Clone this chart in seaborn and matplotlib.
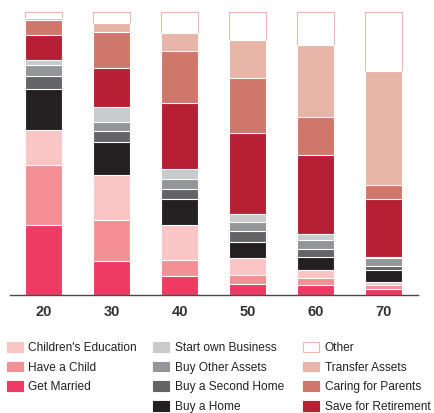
import numpy as np
import matplotlib
matplotlib.use("Agg")
import matplotlib.pyplot as plt
import seaborn as sns
from matplotlib.patches import Patch

# ------------------------------------------
# data (share of goals, % of each age group)
# ------------------------------------------
ages = ["20", "30", "40", "50", "60", "70"]

get_married = [24.6, 12.1, 6.7, 4.0, 3.5, 2.1]
have_child = [21.3, 14.4, 5.6, 3.2, 2.6, 1.6]
children_edu = [12.5, 15.8, 12.3, 5.8, 2.6, 0.9]
buy_home = [14.4, 11.8, 9.5, 5.8, 4.9, 4.4]
second_home = [4.8, 4.0, 3.5, 3.7, 2.8, 1.4]
other_assets = [3.9, 3.2, 3.5, 3.3, 3.2, 2.6]
own_business = [1.6, 5.1, 3.5, 2.8, 2.1, 0.4]
retirement = [8.8, 13.9, 23.2, 28.7, 27.8, 20.6]
caring_parents = [5.5, 12.9, 18.7, 19.4, 13.4, 5.1]
transfer_assets = [0.5, 3.2, 6.3, 13.6, 25.4, 40.1]
other = [2.1, 3.6, 7.2, 9.7, 11.7, 20.8]

# bottom -> top
layers = [
    ("Get Married", get_married, "#EE3B64"),
    ("Have a Child", have_child, "#F38F95"),
    ("Children's Education", children_edu, "#F9C5C5"),
    ("Buy a Home", buy_home, "#242021"),
    ("Buy a Second Home", second_home, "#646466"),
    ("Buy Other Assets", other_assets, "#949598"),
    ("Start own Business", own_business, "#C9CACB"),
    ("Save for Retirement", retirement, "#B71F35"),
    ("Caring for Parents", caring_parents, "#CF776B"),
    ("Transfer Assets", transfer_assets, "#E7B5A7"),
    ("Other", other, "#FFFFFF"),
]
colors = {name: c for name, _, c in layers}
other_edge = "#EDB8AD"

# ------------------------------------------
# plot
# ------------------------------------------
sns.set_style("white")
plt.rcParams["font.family"] = ["Liberation Sans", "DejaVu Sans"]

fig = plt.figure(figsize=(4.34, 4.13), dpi=100)
ax = fig.add_axes([0.0219, 0.2857, 0.9401, 0.6877])

tops = np.cumsum([vals for _, vals, _ in layers], axis=0)

# draw tallest cumulative bar first, then overlay the lower ones
for i in range(len(layers) - 1, -1, -1):
    name, _, col = layers[i]
    edge = other_edge if name == "Other" else "white"
    sns.barplot(x=ages, y=tops[i], color=col, width=0.54, saturation=1,
                edgecolor=edge, linewidth=0.8, ax=ax)

ax.set_xlim(-0.5, 5.5)
ax.set_ylim(0, 100.5)
ax.set_yticks([])
ax.set_ylabel("")
for s in ["left", "right", "top"]:
    ax.spines[s].set_visible(False)
ax.spines["bottom"].set_color("#4A4A4A")
ax.spines["bottom"].set_linewidth(1.0)

ax.set_xticks(range(len(ages)))
ax.set_xticklabels(ages, fontsize=10.5, fontweight="bold", color="#333333")
ax.tick_params(axis="x", which="major", length=0, pad=7)
ax.set_xticks(np.arange(-0.5, 6, 1), minor=True)
ax.tick_params(axis="x", which="minor", length=4, width=1, color="#4A4A4A",
               direction="out")

# ------------------------------------------
# legend (three columns)
# ------------------------------------------
columns = [
    (["Children's Education", "Have a Child", "Get Married"], 0.0155),
    (["Start own Business", "Buy Other Assets", "Buy a Second Home", "Buy a Home"], 0.353),
    (["Other", "Transfer Assets", "Caring for Parents", "Save for Retirement"], 0.699),
]
for names, xpos in columns:
    handles = []
    for n in names:
        ec = other_edge if n == "Other" else colors[n]
        handles.append(Patch(facecolor=colors[n], edgecolor=ec, linewidth=0.8))
    fig.legend(handles, names, loc="upper left", bbox_to_anchor=(xpos, 0.172),
               frameon=False, fontsize=8.6, handlelength=1.35, handleheight=0.9,
               handletextpad=0.45, labelspacing=0.63, borderpad=0,
               borderaxespad=0, labelcolor="#222222")

fig.savefig("out.png", dpi=100)
